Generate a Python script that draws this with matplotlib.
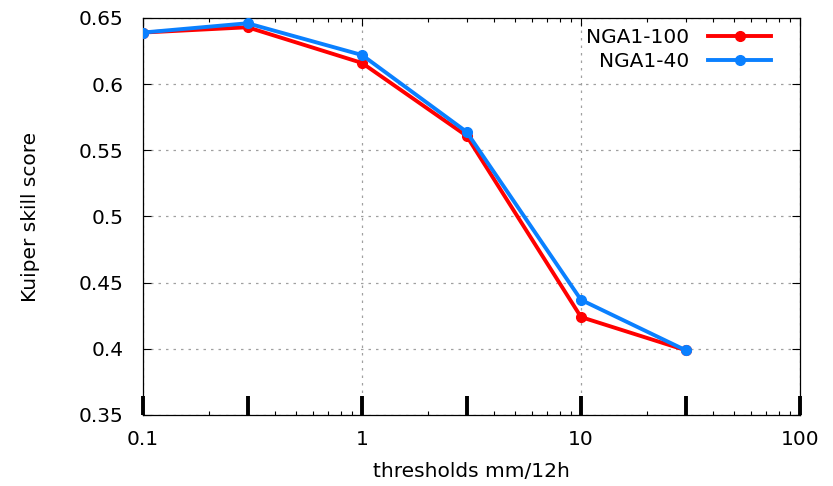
import matplotlib
matplotlib.use('Agg')
import matplotlib.pyplot as plt
import matplotlib.transforms as mtransforms
from matplotlib.ticker import LogLocator, FixedLocator, FixedFormatter, NullFormatter

plt.rcParams['font.family'] = 'DejaVu Sans'
plt.rcParams['font.size'] = 14.5

# precipitation thresholds and skill scores
thresholds = [0.1, 0.3, 1, 3, 10, 30]
nga1_100 = [0.639, 0.643, 0.616, 0.561, 0.424, 0.399]
nga1_40 = [0.639, 0.646, 0.622, 0.564, 0.437, 0.399]
bar_marks = thresholds + [100]

fig = plt.figure(figsize=(8.33, 4.86), dpi=100)
ax = fig.add_axes([0.1717, 0.1461, 0.7887, 0.8169])

ax.plot(thresholds, nga1_100, color='#ff0000', lw=2.8, marker='o', ms=7,
        label='NGA1-100', zorder=3)
ax.plot(thresholds, nga1_40, color='#0a80ff', lw=2.8, marker='o', ms=7,
        label='NGA1-40', zorder=4)

ax.set_xscale('log')
ax.set_xlim(0.1, 100)
ax.set_ylim(0.35, 0.65)

ax.xaxis.set_major_locator(FixedLocator([0.1, 1, 10, 100]))
ax.xaxis.set_major_formatter(FixedFormatter(['0.1', '1', '10', '100']))
ax.xaxis.set_minor_locator(LogLocator(base=10, subs=range(2, 10)))
ax.xaxis.set_minor_formatter(NullFormatter())
yt = [0.35, 0.4, 0.45, 0.5, 0.55, 0.6, 0.65]
ax.yaxis.set_major_locator(FixedLocator(yt))
ax.yaxis.set_major_formatter(FixedFormatter(['0.35', '0.4', '0.45', '0.5', '0.55', '0.6', '0.65']))

ax.tick_params(which='both', direction='in', top=True, right=True, labelsize=14.5,
               color='black', width=0.8)
ax.tick_params(which='major', length=6)
ax.tick_params(axis='x', which='major', pad=11)
ax.tick_params(axis='y', which='major', pad=14)
ax.tick_params(which='minor', length=3)
for s in ax.spines.values():
    s.set_linewidth(0.9)

ax.grid(True, which='major', color='#a0a0a0', linestyle=(0, (2, 4)), lw=0.9)

# heavy marks at the thresholds along the bottom axis
trans = mtransforms.blended_transform_factory(ax.transData, ax.transAxes)
ax.vlines(bar_marks, 0, 0.048, transform=trans, color='black', lw=2.8, zorder=5,
          clip_on=False)

ax.set_xlabel('thresholds mm/12h', fontsize=14.5, labelpad=9)
ax.set_ylabel('Kuiper skill score', fontsize=14.5, labelpad=28)

ax.legend(loc='upper right', frameon=False, markerfirst=False, fontsize=14.5,
          handlelength=3.1, handletextpad=0.95, labelspacing=0.25,
          borderaxespad=0.2, bbox_to_anchor=(0.974, 1.006))

fig.savefig('out.png', dpi=100)
